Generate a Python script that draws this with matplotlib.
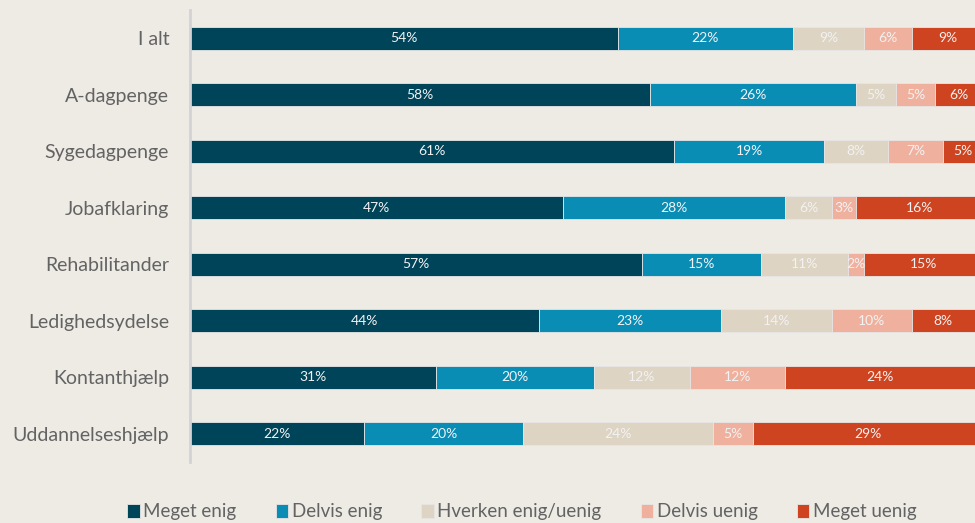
import matplotlib.pyplot as plt
import numpy as np

plt.rcParams['font.family'] = ['Lato', 'DejaVu Sans']

categories = ["I alt", "A-dagpenge", "Sygedagpenge", "Jobafklaring",
              "Rehabilitander", "Ledighedsydelse", "Kontanthjælp", "Uddannelseshjælp"]
series = ["Meget enig", "Delvis enig", "Hverken enig/uenig", "Delvis uenig", "Meget uenig"]

meget_enig = [54, 58, 61, 47, 57, 44, 31, 22]
delvis_enig = [22, 26, 19, 28, 15, 23, 20, 20]
hverken = [9, 5, 8, 6, 11, 14, 12, 24]
delvis_uenig = [6, 5, 7, 3, 2, 10, 12, 5]
meget_uenig = [9, 6, 5, 16, 15, 8, 24, 29]

values = [meget_enig, delvis_enig, hverken, delvis_uenig, meget_uenig]
colors = ["#00445A", "#0A8DB5", "#DDD4C3", "#F0B09E", "#CF4420"]
bg = "#EEEBE5"

fig = plt.figure(figsize=(9.75, 5.23), dpi=100, facecolor=bg)
ax = fig.add_axes([190 / 975, 1 - 462 / 523, 793 / 975, 452 / 523], facecolor=bg)

y = np.arange(len(categories))
left = np.zeros(len(categories))
for name, vals, col in zip(series, values, colors):
    vals = np.array(vals, dtype=float)
    ax.barh(y, vals, left=left, height=0.4, color=col, label=name,
            edgecolor="#E6E6E6", linewidth=0.6)
    for yi, l, v in zip(y, left, vals):
        ax.text(l + v / 2, yi, f"{int(v)}%", ha="center", va="center",
                color="#F2F2F2", fontsize=10)
    left += vals

ax.set_xlim(0, 100)
ax.set_ylim(len(categories) - 0.5, -0.5)
ax.set_yticks(y)
ax.set_yticklabels(categories, fontsize=14, color="#636363")
ax.tick_params(axis="y", length=0, pad=15)
ax.set_xticks([])
for s in ["top", "right", "bottom"]:
    ax.spines[s].set_visible(False)
ax.spines["left"].set_color("#D3D3D3")
ax.spines["left"].set_linewidth(2)

fig.legend(loc="center", bbox_to_anchor=(522 / 975, 1 - 512 / 523), ncol=5,
           frameon=False, fontsize=13.5, handlelength=0.65, handleheight=0.7,
           handletextpad=0.2, columnspacing=2.1, labelcolor="#636363")

plt.savefig("out.png", dpi=100, facecolor=bg)
